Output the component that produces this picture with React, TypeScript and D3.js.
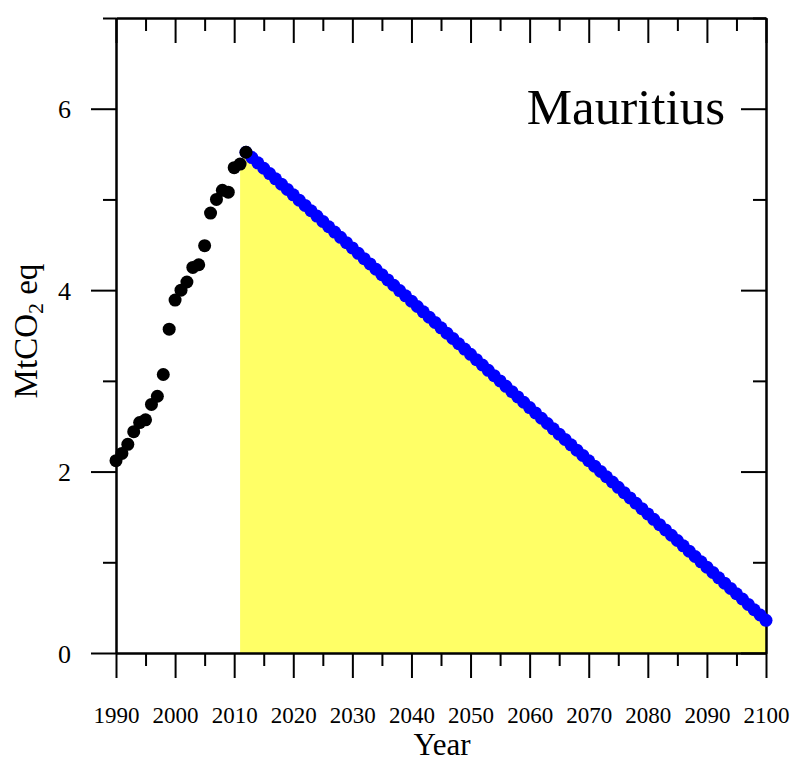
import React, { useEffect, useRef } from 'react';
import * as d3 from 'd3';

// historical emissions, 1990-2012
const histYears = d3.range(1990, 2013);
const histValues = [2.12, 2.2, 2.3, 2.44, 2.54, 2.57, 2.74, 2.83, 3.07, 3.57, 3.89, 4.0, 4.09, 4.25, 4.28, 4.49, 4.85, 5.0, 5.1, 5.08, 5.35, 5.39, 5.52];

// projected pathway, 2012-2100
const projYears = d3.range(2012, 2101);
const projValues = [
  5.52, 5.461, 5.403, 5.344, 5.285, 5.227, 5.168, 5.11, 5.051, 4.992,
  4.934, 4.875, 4.816, 4.758, 4.699, 4.64, 4.582, 4.523, 4.465, 4.406,
  4.347, 4.289, 4.23, 4.171, 4.113, 4.054, 3.995, 3.937, 3.878, 3.82,
  3.761, 3.702, 3.644, 3.585, 3.526, 3.468, 3.409, 3.35, 3.292, 3.233,
  3.175, 3.116, 3.057, 2.999, 2.94, 2.881, 2.823, 2.764, 2.705, 2.647,
  2.588, 2.53, 2.471, 2.412, 2.354, 2.295, 2.236, 2.178, 2.119, 2.06,
  2.002, 1.943, 1.885, 1.826, 1.767, 1.709, 1.65, 1.591, 1.533, 1.474,
  1.415, 1.357, 1.298, 1.24, 1.181, 1.122, 1.064, 1.005, 0.946, 0.888,
  0.829, 0.77, 0.712, 0.653, 0.595, 0.536, 0.477, 0.419, 0.36,
];

const xMajor = d3.range(1990, 2101, 10);
const xMinor = d3.range(1995, 2100, 10);
const yMajor = [0, 2, 4, 6];
const yMinor = [1, 3, 5, 7];

const App = () => {
  const svgRef = useRef(null);

  useEffect(() => {
    document.body.style.margin = '0';
    const svg = d3.select(svgRef.current);
    svg.selectAll('*').remove();

    const width = 790;
    const height = 761;
    const left = 116, right = 766, top = 18, bottom = 653;
    const font = '"Liberation Serif", "Times New Roman", serif';

    const x = d3.scaleLinear().domain([1990, 2100]).range([left, right]);
    const y = d3.scaleLinear().domain([0, 7]).range([bottom, top]);

    svg.attr('width', width).attr('height', height).style('display', 'block');

    // yellow area under the projection
    const areaPts: any = [[2011, histValues[histYears.indexOf(2011)]]].concat(
      projYears.map((yr, i) => [yr, projValues[i]])
    );
    const area: any = d3.area()
      .x((d: any) => x(d[0]))
      .y0(y(0))
      .y1((d: any) => y(d[1]));
    svg.append('path')
      .datum(areaPts)
      .attr('d', area)
      .attr('fill', '#ffff66');

    // axes
    const styleAxis = (g: any) => {
      g.selectAll('path').attr('stroke', '#000').attr('stroke-width', 2);
      g.selectAll('line').attr('stroke', '#000').attr('stroke-width', 2);
    };

    const gBottom = svg.append('g').attr('transform', `translate(0,${bottom})`);
    gBottom.call(d3.axisBottom(x).tickValues(xMajor).tickSize(25).tickSizeOuter(0).tickFormat(d3.format('d')) as any);
    gBottom.append('g').call(d3.axisBottom(x).tickValues(xMinor).tickSize(13).tickSizeOuter(0).tickFormat(() => '') as any);
    gBottom.selectAll('text')
      .attr('y', 70).attr('dy', 0)
      .attr('font-family', font).attr('font-size', 23).attr('fill', '#000');
    styleAxis(gBottom);

    const gTop = svg.append('g').attr('transform', `translate(0,${top})`);
    gTop.call(d3.axisTop(x).tickValues(xMajor).tickSize(-25).tickSizeOuter(0).tickFormat(() => '') as any);
    gTop.append('g').call(d3.axisTop(x).tickValues(xMinor).tickSize(-13).tickSizeOuter(0).tickFormat(() => '') as any);
    styleAxis(gTop);

    const gLeft = svg.append('g').attr('transform', `translate(${left},0)`);
    gLeft.call(d3.axisLeft(y).tickValues(yMajor).tickSize(25).tickSizeOuter(0).tickFormat(d3.format('d')) as any);
    gLeft.append('g').call(d3.axisLeft(y).tickValues(yMinor).tickSize(13).tickSizeOuter(0).tickFormat(() => '') as any);
    gLeft.selectAll('text')
      .attr('x', -45).attr('dy', '0.35em')
      .attr('font-family', font).attr('font-size', 26).attr('fill', '#000');
    styleAxis(gLeft);

    const gRight = svg.append('g').attr('transform', `translate(${right},0)`);
    gRight.call(d3.axisRight(y).tickValues(yMajor).tickSize(-25).tickSizeOuter(0).tickFormat(() => '') as any);
    gRight.append('g').call(d3.axisRight(y).tickValues(yMinor).tickSize(-13).tickSizeOuter(0).tickFormat(() => '') as any);
    styleAxis(gRight);

    // projected points
    svg.append('g')
      .selectAll('circle')
      .data(projValues)
      .enter()
      .append('circle')
      .attr('cx', (d, i) => x(projYears[i]))
      .attr('cy', (d) => y(d))
      .attr('r', 6.5)
      .attr('fill', '#0000ff');

    // historical points
    svg.append('g')
      .selectAll('circle')
      .data(histValues)
      .enter()
      .append('circle')
      .attr('cx', (d, i) => x(histYears[i]))
      .attr('cy', (d) => y(d))
      .attr('r', 6.5)
      .attr('fill', '#000');

    // titles
    svg.append('text')
      .attr('x', 725).attr('y', 124)
      .attr('text-anchor', 'end')
      .attr('font-family', font).attr('font-size', 51)
      .text('Mauritius');

    svg.append('text')
      .attr('x', (left + right) / 2 + 1).attr('y', 755)
      .attr('text-anchor', 'middle')
      .attr('font-family', font).attr('font-size', 31)
      .text('Year');

    const yt = svg.append('text')
      .attr('transform', 'translate(37,331) rotate(-90)')
      .attr('text-anchor', 'middle')
      .attr('font-family', font).attr('font-size', 33);
    yt.append('tspan').text('MtCO');
    yt.append('tspan').attr('font-size', 22).attr('dy', 6).text('2');
    yt.append('tspan').attr('dy', -6).text(' eq');
  }, []);

  return <svg ref={svgRef}></svg>;
};

export default App;
